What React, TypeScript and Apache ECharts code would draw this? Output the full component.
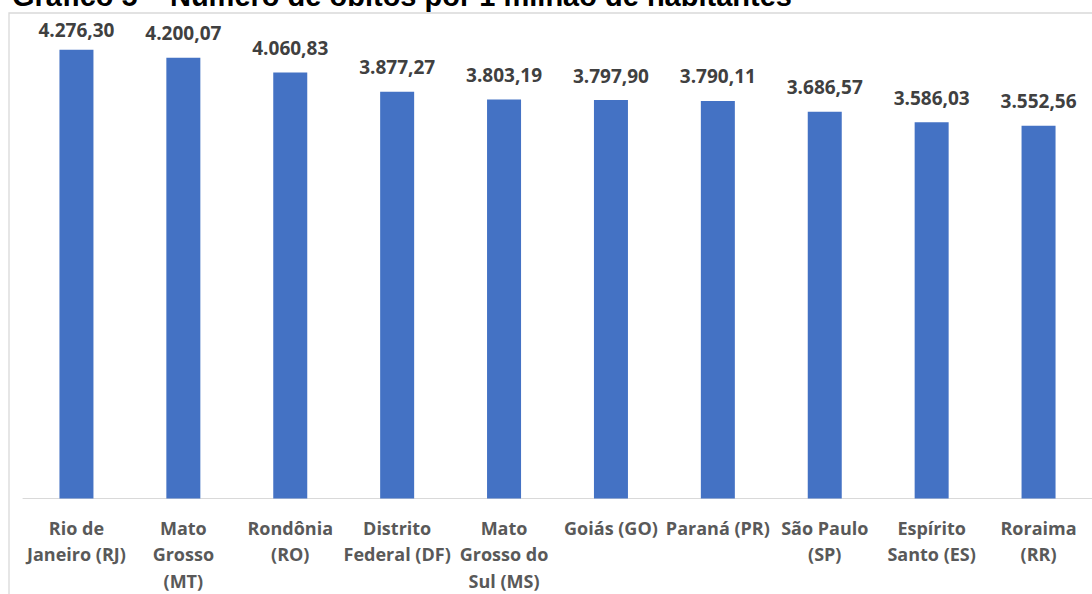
import React, { useEffect, useRef } from "react";
import * as echarts from "echarts";

const titleText = "Gráfico 5 – Número de óbitos por 1 milhão de habitantes";
const categories = [
  "Rio de\nJaneiro (RJ)",
  "Mato\nGrosso\n(MT)",
  "Rondônia\n(RO)",
  "Distrito\nFederal (DF)",
  "Mato\nGrosso do\nSul (MS)",
  "Goiás (GO)",
  "Paraná (PR)",
  "São Paulo\n(SP)",
  "Espírito\nSanto (ES)",
  "Roraima\n(RR)",
];
const values = [4276.3, 4200.07, 4060.83, 3877.27, 3803.19, 3797.9, 3790.11, 3686.57, 3586.03, 3552.56];

const fmt = (v: number) => {
  const [i, d] = v.toFixed(2).split(".");
  return i.replace(/\B(?=(\d{3})+(?!\d))/g, ".") + "," + d;
};

export default function App() {
  const ref = useRef<HTMLDivElement>(null);
  useEffect(() => {
    const chart = echarts.init(ref.current!, null, { renderer: "svg" });
    chart.setOption({
      animation: false,
      backgroundColor: "#ffffff",
      title: {
        text: titleText,
        left: 7,
        top: -24,
        textStyle: {
          fontFamily: "Liberation Sans",
          fontWeight: "bold",
          fontSize: 29,
          color: "#000000",
        },
      },
      graphic: [
        {
          type: "rect",
          shape: { x: 9, y: 13, width: 1100, height: 600 },
          style: { fill: "none", stroke: "#d9d9d9", lineWidth: 1.3 },
          silent: true,
        },
      ],
      grid: { left: 23, width: 1078, top: 26.4, height: 474.6 },
      xAxis: {
        type: "category",
        data: categories,
        axisLine: { lineStyle: { color: "#d9d9d9", width: 1 } },
        axisTick: { show: false },
        axisLabel: {
          interval: 0,
          margin: 16,
          fontFamily: "Open Sans",
          fontWeight: "bold",
          fontSize: 18,
          lineHeight: 26.5,
          color: "#595959",
        },
      },
      yAxis: {
        type: "value",
        min: 0,
        max: 4500,
        show: false,
        splitLine: { show: false },
      },
      series: [
        {
          type: "bar",
          data: values.map((v, i) =>
            i === 0 ? { value: v, label: { distance: 10 } } : v
          ),
          barWidth: 34,
          itemStyle: { color: "#4472c4" },
          label: {
            show: true,
            position: "top",
            distance: 15,
            formatter: (p: any) => fmt(p.value),
            fontFamily: "Open Sans",
            fontWeight: "bold",
            fontSize: 19,
            color: "#404040",
          },
        },
      ],
    });
    return () => chart.dispose();
  }, []);
  return (
    <div
      ref={ref}
      style={{ position: "fixed", left: 0, top: 0, width: 1092, height: 594 }}
    />
  );
}
